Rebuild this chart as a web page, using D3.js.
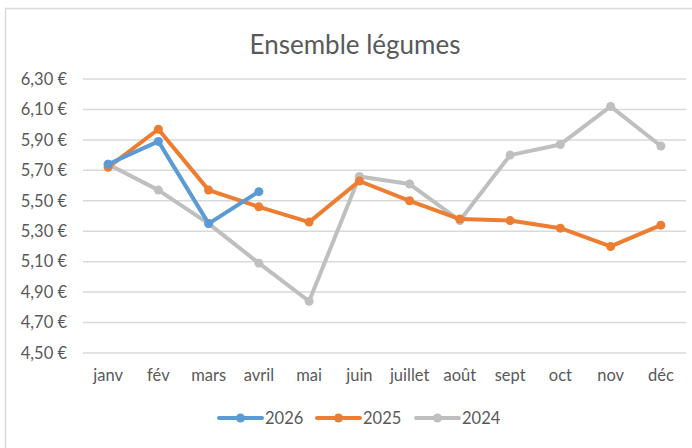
<!DOCTYPE html>
<html>
<head>
<meta charset="utf-8">
<script src="https://cdn.jsdelivr.net/npm/d3@7"></script>
<style>
body { margin: 0; background: #fff; }
text { font-family: Lato, "Open Sans", sans-serif; }
</style>
</head>
<body>
<svg></svg>
<script>
var months = ["janv", "fév", "mars", "avril", "mai", "juin", "juillet", "août", "sept", "oct", "nov", "déc"];
var yTicks = [4.5, 4.7, 4.9, 5.1, 5.3, 5.5, 5.7, 5.9, 6.1, 6.3];

var values2026 = [5.74, 5.89, 5.35, 5.56];
var values2025 = [5.72, 5.97, 5.57, 5.46, 5.36, 5.63, 5.50, 5.38, 5.37, 5.32, 5.20, 5.34];
var values2024 = [5.74, 5.57, 5.35, 5.09, 4.84, 5.66, 5.61, 5.37, 5.80, 5.87, 6.12, 5.86];

var seriesNames = ["2026", "2025", "2024"];
var seriesColors = ["#5b9bd5", "#ed7d31", "#bfbfbf"];
var seriesValues = [values2026, values2025, values2024];

var screen = {width: 692, height: 448};
var margins = {top: 79, right: 6, bottom: 95, left: 83};

var svg = d3.select("svg")
    .attr("width", screen.width)
    .attr("height", screen.height);

// chart frame
svg.append("path")
    .attr("d", "M5.5,448 L5.5,8.5 L692,8.5")
    .attr("fill", "none")
    .attr("stroke", "#d9d9d9")
    .attr("stroke-width", 1.5);

var width = screen.width - margins.left - margins.right;
var height = screen.height - margins.top - margins.bottom;

var xScale = d3.scaleBand()
    .domain(months)
    .range([0, width]);

var yScale = d3.scaleLinear()
    .domain([4.5, 6.3])
    .range([height, 0]);

var graph = svg.append("g")
    .attr("id", "graph")
    .attr("transform", "translate(" + margins.left + "," + margins.top + ")");

// gridlines
graph.append("g")
    .selectAll("line")
    .data(yTicks)
    .enter()
    .append("line")
    .attr("x1", 0)
    .attr("x2", width)
    .attr("y1", function(d){ return yScale(d); })
    .attr("y2", function(d){ return yScale(d); })
    .attr("stroke", "#d9d9d9")
    .attr("stroke-width", 1.5);

var fmt = function(d){ return d.toFixed(2).replace(".", ",") + " €"; };

var yAxis = d3.axisLeft(yScale)
    .tickValues(yTicks)
    .tickFormat(fmt)
    .tickSize(0)
    .tickPadding(16);

graph.append("g")
    .attr("id", "yAxis")
    .call(yAxis)
    .call(function(g){ g.select(".domain").remove(); })
    .selectAll("text")
    .attr("fill", "#595959")
    .style("font-size", "16.5px");

var xAxis = d3.axisBottom(xScale)
    .tickSize(0)
    .tickPadding(16);

graph.append("g")
    .attr("id", "xAxis")
    .attr("transform", "translate(0," + height + ")")
    .call(xAxis)
    .call(function(g){ g.select(".domain").remove(); })
    .selectAll("text")
    .attr("fill", "#595959")
    .style("font-size", "16.5px");

var line = d3.line()
    .x(function(d, i){ return xScale(months[i]) + xScale.bandwidth() / 2; })
    .y(function(d){ return yScale(d); });

// draw 2024 first so 2026 lies on top
for (var s = seriesValues.length - 1; s >= 0; s--) {
    graph.append("path")
        .datum(seriesValues[s])
        .attr("fill", "none")
        .attr("stroke", seriesColors[s])
        .attr("stroke-width", 4)
        .attr("stroke-linejoin", "round")
        .attr("d", line);

    graph.append("g")
        .selectAll("circle")
        .data(seriesValues[s])
        .enter()
        .append("circle")
        .attr("cx", function(d, i){ return xScale(months[i]) + xScale.bandwidth() / 2; })
        .attr("cy", function(d){ return yScale(d); })
        .attr("r", 4.5)
        .attr("fill", seriesColors[s]);
}

// title
svg.append("text")
    .attr("x", 355)
    .attr("y", 54)
    .attr("text-anchor", "middle")
    .attr("fill", "#595959")
    .style("font-size", "26px")
    .text("Ensemble légumes");

// legend
var legendX = [219, 317, 416];
var legend = svg.append("g").attr("id", "legend");
seriesNames.forEach(function(name, i){
    var g = legend.append("g")
        .attr("transform", "translate(" + legendX[i] + ",418)");
    g.append("line")
        .attr("x1", 0).attr("x2", 43)
        .attr("y1", 0).attr("y2", 0)
        .attr("stroke", seriesColors[i])
        .attr("stroke-width", 4)
        .attr("stroke-linecap", "round");
    g.append("circle")
        .attr("cx", 21.5).attr("cy", 0)
        .attr("r", 4.5)
        .attr("fill", seriesColors[i]);
    g.append("text")
        .attr("x", 46)
        .attr("y", 6)
        .attr("fill", "#595959")
        .style("font-size", "16.5px")
        .text(name);
});
</script>
</body>
</html>
